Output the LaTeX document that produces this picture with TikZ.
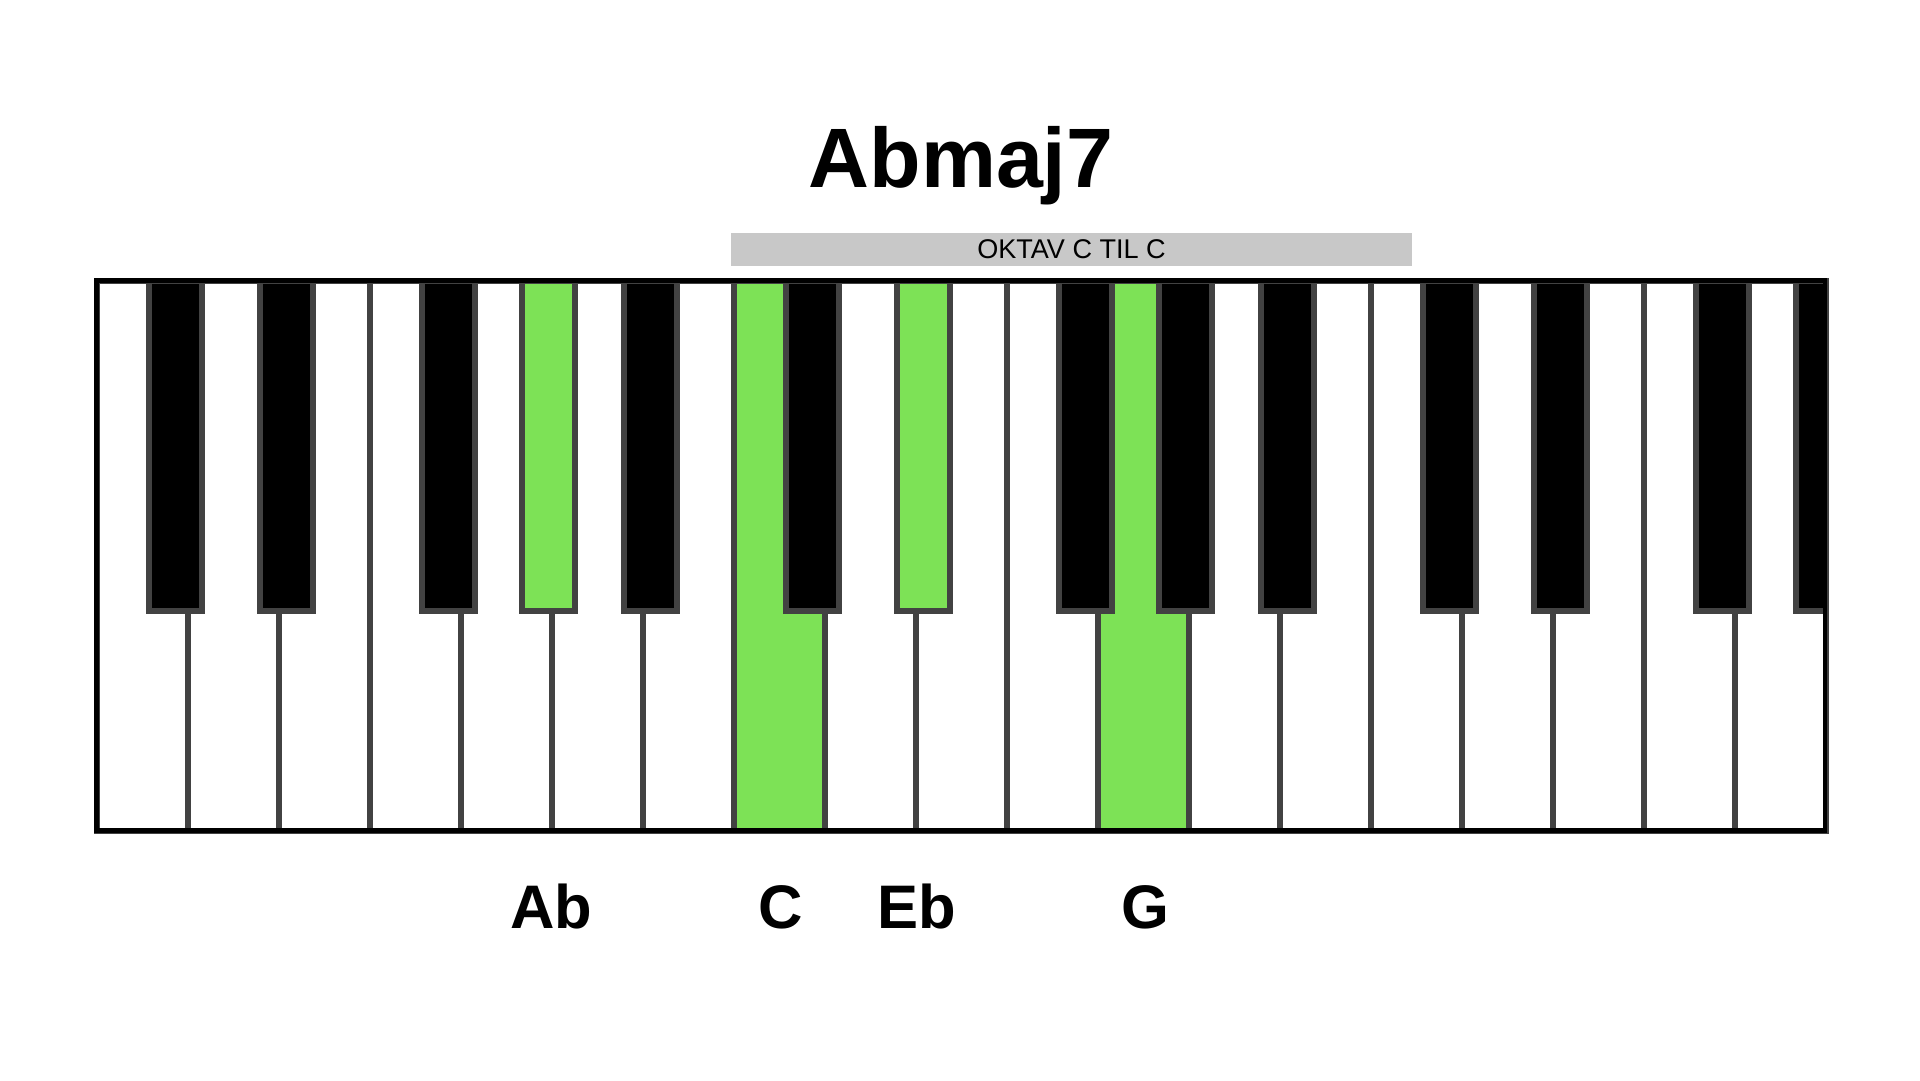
\documentclass[tikz,border=0pt]{standalone}
\usepackage{fontspec}
\setmainfont{Liberation Sans}
\usepackage{xcolor}
\definecolor{keyGreen}{HTML}{7DE256}
\definecolor{keyEdge}{HTML}{424242}
\definecolor{barGray}{HTML}{C8C8C8}
\usetikzlibrary{positioning}

\begin{document}
\begin{tikzpicture}[
    x=0.1mm, y=-0.1mm,
    whitekey/.style ={rectangle, draw=keyEdge, line width=0.6mm, fill=white,
                      minimum width=9.1mm, minimum height=55mm,
                      inner sep=0pt, anchor=north west},
    blackkey/.style ={rectangle, draw=keyEdge, line width=0.6mm, fill=black,
                      minimum width=5.3mm, minimum height=33mm,
                      inner sep=0pt, anchor=north},
    chord/.style    ={fill=keyGreen},
    kbdframe/.style ={rectangle, draw=black, line width=0.45mm,
                      minimum width=172.9mm, minimum height=55mm,
                      inner sep=0pt, anchor=north west},
    chordtitle/.style={font=\fontsize{24}{28}\selectfont\bfseries, anchor=base},
    octavebar/.style={rectangle, fill=barGray, minimum width=68.1mm,
                      minimum height=3.3mm, inner sep=0pt,
                      font=\fontsize{7.7}{9}\selectfont},
    notename/.style ={font=\fontsize{17.5}{20}\selectfont\bfseries, anchor=base}
]
\useasboundingbox (0,0) rectangle (1920,1080);

\node[chordtitle] (chordname) at (961,187) {Abmaj7};
\node[octavebar] (octave)     at (1071.5,249.5) {OKTAV C TIL C};

% white keys, C at 0
\foreach \i in {0,1,2,3,4,5,6,8,9,10,12,13,14,15,16,17,18}
  \node[whitekey] (w\i) at ({94+91*\i},278) {};
\node[whitekey, chord] (w7)  at ({94+91*7},278) {};
\node[whitekey, chord] (w11) at ({94+91*11},278) {};

% black keys: white key index / shift from the gap
\begin{scope}
  \clip (94,278) rectangle (1823,827);
  \foreach \i/\dx in {0/-10,1/10,3/-10,5/10,7/-10,10/-10,11/-1,12/10,14/-10,15/10,17/-10,18/-1}
    \node[blackkey] (b\i) at ({94+91*(\i+1)+\dx},278) {};
  \node[blackkey, chord] (b4) at ({94+91*5-1},278) {};
  \node[blackkey, chord] (b8) at ({94+91*9+10},278) {};
\end{scope}

\node[kbdframe] (keyboard) at (94,278) {};

\node[notename] (nameAb) at (551,928)  {Ab};
\node[notename] (nameC)  at (781,928)  {C};
\node[notename] (nameEb) at (917,928)  {Eb};
\node[notename] (nameG)  at (1145,928) {G};
\end{tikzpicture}
\end{document}
